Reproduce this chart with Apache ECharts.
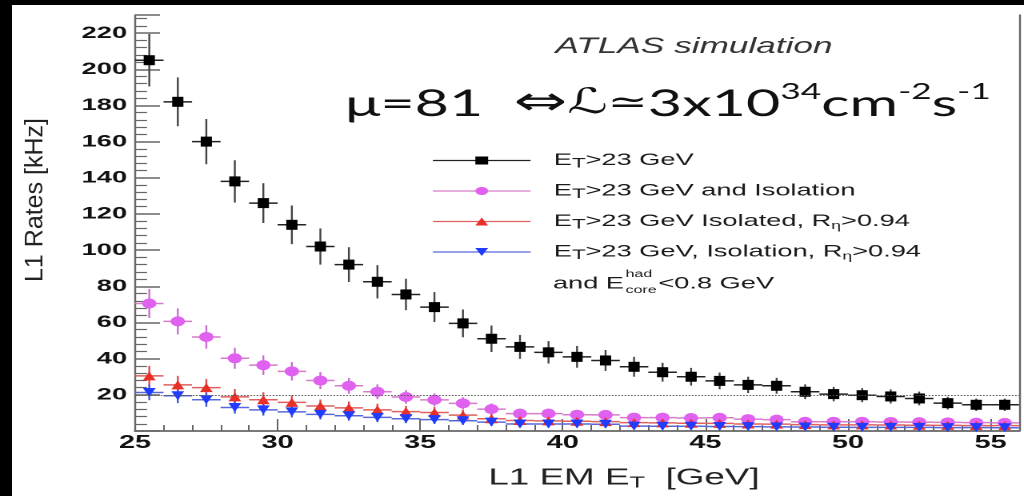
<!DOCTYPE html>
<html><head><meta charset="utf-8">
<script src="https://cdn.jsdelivr.net/npm/echarts@6/dist/echarts.min.js"></script>
<style>
html,body{margin:0;padding:0;background:#000;width:1024px;height:496px;overflow:hidden}
#wrap{position:relative;width:1024px;height:496px;background:#fff}
#chart{position:absolute;left:0;top:0;width:640px;height:496px;transform:scaleX(1.6);transform-origin:0 0}
.bl{position:absolute;background:#000}
</style></head><body>
<div id="wrap"><div id="chart"></div>
<div class="bl" style="left:0;top:0;width:12px;height:496px"></div>
<div class="bl" style="left:0;top:0;width:1024px;height:5px"></div>
</div>
<script>
// ---- data ----
const xBins = [25.5,26.5,27.5,28.5,29.5,30.5,31.5,32.5,33.5,34.5,35.5,36.5,37.5,38.5,39.5,40.5,41.5,42.5,43.5,44.5,45.5,46.5,47.5,48.5,49.5,50.5,51.5,52.5,53.5,54.5,55.5];
const HALF_BIN = 0.5;
const ratesEt   = [205,182,160,138,126,114,102,92,82.5,75.5,68.5,59.5,51,46.5,43.5,41,39,35.5,32.5,30,27.7,25.5,25,21.7,20.4,19.8,19.1,18,15.4,14.5,14.5];
const errEt     = [14.5,13.5,12.5,11.7,11,10.7,10,9.6,9.2,8.7,8.3,7.7,7.3,6.6,6.2,6,5.8,5.5,5.2,4.9,4.6,4.5,4.4,4.1,4,3.9,3.9,3.8,3.5,3.4,3.4];
const ratesIso  = [70.5,60.6,52,40.2,36.4,33,27.9,25,21.7,18.8,17.2,15.3,12.1,9.6,9.6,9,8.9,7.4,7.4,7.2,7.3,6.6,6.3,5.1,5.1,5.1,5.0,4.9,4.8,4.6,4.5];
const errIso    = [8,7.2,6.5,5.8,5.4,5.1,4.7,4.4,4.1,3.8,3.6,3.4,3.1,2.8,2.8,2.7,2.7,2.4,2.4,2.4,2.4,2.3,2.2,2.0,2.0,2.0,2.0,2.0,1.9,1.9,1.9];
const ratesReta = [30.5,25.5,24,18.9,17.3,15.8,13.8,12.8,11.7,10.7,10.2,8.8,6.8,5.8,5.6,5.4,5.2,4.6,4.5,4.3,4.2,3.9,3.8,3.5,3.4,3.4,3.3,3.2,3.1,3.0,3.0];
const errReta   = [5.5,5,4.8,4.3,4.1,3.9,3.6,3.5,3.4,3.2,3.1,2.9,2.6,2.4,2.3,2.3,2.2,2.1,2.1,2.0,2.0,1.9,1.9,1.8,1.8,1.8,1.8,1.7,1.7,1.7,1.7];
const ratesHad  = [21.3,19.5,17.3,13,11.7,10.6,9.2,8.4,7.5,6.8,6.3,5.7,4.9,3.9,3.9,3.9,3.7,2.7,2.6,2.6,2.5,2.4,2.3,2.2,2.1,2.0,2.0,2.0,1.9,1.9,1.8];
const errHad    = [4.3,4.1,3.9,3.4,3.2,3.1,2.8,2.7,2.6,2.5,2.4,2.3,2.1,1.9,1.9,1.9,1.8,1.6,1.5,1.5,1.5,1.5,1.4,1.4,1.4,1.3,1.3,1.3,1.3,1.3,1.3];
const xTicks = [25,30,35,40,45,50,55];
const yTicks = [20,40,60,80,100,120,140,160,180,200,220];
const threshold = 20;
const names = ['ET>23 GeV','ET>23 GeV and Isolation','ET>23 GeV Isolated, Reta>0.94','ET>23 GeV, Isolation, Reta>0.94'];
const legendRich = {
  'ET>23 GeV': '{t|E}{s|T}{t|>23 GeV}',
  'ET>23 GeV and Isolation': '{t|E}{s|T}{t|>23 GeV and Isolation}',
  'ET>23 GeV Isolated, Reta>0.94': '{t|E}{s|T}{t|>23 GeV Isolated, R}{e|η}{t|>0.94}',
  'ET>23 GeV, Isolation, Reta>0.94': '{t|E}{s|T}{t|>23 GeV, Isolation, R}{e|η}{t|>0.94}'
};

const FONT = 'Liberation Sans';
function makeErr(hColor, vColor, hW, vW){
  return function(params, api){
    const x = api.value(0), y = api.value(1), e = api.value(2);
    const l = api.coord([x - HALF_BIN, y]), r = api.coord([x + HALF_BIN, y]);
    const t = api.coord([x, y + e]), b = api.coord([x, Math.max(y - e, 0)]);
    return {type:'group', children:[
      {type:'line', shape:{x1:l[0],y1:l[1],x2:r[0],y2:r[1]}, style:{stroke:hColor, lineWidth:hW}},
      {type:'line', shape:{x1:t[0],y1:t[1],x2:b[0],y2:b[1]}, style:{stroke:vColor, lineWidth:vW}}
    ]};
  };
}
function errSeries(id, vals, errs, hColor, vColor){
  return {type:'custom', name:id, renderItem:makeErr(hColor, vColor, 1.5, 1.2),
    data:xBins.map((x,i)=>[x, vals[i], errs[i]]), encode:{x:0,y:1}, clip:true, silent:true};
}
function markSeries(name, vals, symbol, size, color, lineColor, rotate, extra){
  return Object.assign({type:'line', name:name, data:xBins.map((x,i)=>[x, vals[i]]),
    symbol:symbol, symbolSize:size, symbolRotate:rotate||0, showSymbol:true, showAllSymbol:true,
    itemStyle:{color:color}, lineStyle:{color:lineColor, opacity:0, width:1}, silent:true}, extra||{});
}

const chart = echarts.init(document.getElementById('chart'), null, {renderer:'canvas', devicePixelRatio:2});
const axisCol = '#666';
chart.setOption({
  animation:false,
  backgroundColor:'#fff',
  grid:{left:84.4, right:3.1, top:15, bottom:65, outerBoundsMode:'none'},
  xAxis:[{
    type:'value', min:25, max:56, interval:5,
    axisLine:{lineStyle:{color:axisCol, width:1.5}},
    axisTick:{inside:true, length:12, lineStyle:{color:axisCol, width:1}},
    minorTick:{show:true, splitNumber:5, length:6, lineStyle:{color:axisCol, width:1}},
    splitLine:{show:false},
    axisLabel:{margin:3, color:'#111', fontFamily:FONT, fontWeight:'bold', fontSize:18,
      formatter:v=>xTicks.includes(v)?String(v):''}
  },{
    type:'value', position:'top', min:25, max:56,
    axisLine:{show:true, lineStyle:{color:axisCol, width:1.5}},
    axisTick:{show:false}, axisLabel:{show:false}, splitLine:{show:false}
  }],
  yAxis:[{
    type:'value', min:0, max:230, interval:20,
    axisLine:{show:true, lineStyle:{color:axisCol, width:1.2}},
    axisTick:{show:true, inside:true, length:15.6, lineStyle:{color:axisCol, width:1.5}},
    minorTick:{show:true, splitNumber:5, length:7.5, lineStyle:{color:axisCol, width:1.2}},
    splitLine:{show:false},
    axisLabel:{margin:5, color:'#111', fontFamily:FONT, fontWeight:'bold', fontSize:17,
      formatter:v=>yTicks.includes(v)?String(v):''}
  },{
    type:'value', position:'right', min:0, max:230,
    axisLine:{show:true, lineStyle:{color:axisCol, width:1.2}},
    axisTick:{show:false}, axisLabel:{show:false}, splitLine:{show:false}
  }],
  legend:{
    orient:'vertical', left:270, top:152, padding:0, itemWidth:61, itemHeight:10, itemGap:12,
    selectedMode:false, data:names, lineStyle:{width:1.2, opacity:1},
    formatter:n=>legendRich[n],
    textStyle:{padding:[0,0,0,9.5], rich:{
      t:{fontFamily:FONT, fontSize:17, lineHeight:20, color:'#1a1a1a'},
      s:{fontFamily:FONT, fontSize:14, lineHeight:12, verticalAlign:'bottom', color:'#1a1a1a'},
      e:{fontFamily:FONT, fontSize:11, lineHeight:8, verticalAlign:'bottom', color:'#1a1a1a'}
    }}
  },
  series:[
    errSeries('errEt', ratesEt, errEt, '#222', '#444'),
    markSeries(names[0], ratesEt, 'rect', [7,10], '#000', '#222', 0, {
      markLine:{silent:true, symbol:'none', label:{show:false},
        lineStyle:{type:'dotted', color:'#555', width:1, opacity:1}, data:[{yAxis:threshold}]}
    }),
    errSeries('errIso', ratesIso, errIso, '#d67cc8', '#c870d0'),
    markSeries(names[1], ratesIso, 'circle', [9,10], '#e060f0', '#d67cc8', 0),
    errSeries('errReta', ratesReta, errReta, '#e06060', '#d85050'),
    markSeries(names[2], ratesReta, 'triangle', [8,9], '#e83028', '#e06060', 0),
    errSeries('errHad', ratesHad, errHad, '#5868d8', '#4858d0'),
    markSeries(names[3], ratesHad, 'triangle', [8,9], '#1f3cff', '#5868d8', 180)
  ],
  graphic:[
    {type:'text', x:433.75, y:47, style:{text:'ATLAS simulation', fontFamily:FONT, fontStyle:'italic', fontSize:22, fill:'#333', align:'center', verticalAlign:'middle'}},
    {type:'text', x:215.6, y:104, style:{
      text:'{b|μ=81  }{a|⇔}{l|ℒ}{q|≃}{b|3x10}{p|34}{b|cm}{p|-2}{b|s}{p|-1}',
      align:'left', verticalAlign:'middle',
      rich:{
        b:{fontFamily:'Lato', fontSize:37, lineHeight:46, fill:'#111'},
        a:{fontFamily:'DejaVu Sans', fontSize:40, lineHeight:46, fill:'#111'},
        q:{fontFamily:'DejaVu Sans', fontSize:30, lineHeight:46, fill:'#111'},
        l:{fontFamily:'DejaVu Sans', fontStyle:'italic', fontSize:35, lineHeight:46, fill:'#111'},
        p:{fontFamily:'Lato', fontSize:22, lineHeight:24, verticalAlign:'top', fill:'#111'}
      }}},
    {type:'text', x:345.6, y:284, style:{text:'and E', fontFamily:FONT, fontSize:17, fill:'#1a1a1a', align:'left', verticalAlign:'middle'}},
    {type:'text', x:391, y:274, style:{text:'had', fontFamily:FONT, fontSize:10, fill:'#1a1a1a', align:'left', verticalAlign:'middle'}},
    {type:'text', x:391, y:290, style:{text:'core', fontFamily:FONT, fontSize:10, fill:'#1a1a1a', align:'left', verticalAlign:'middle'}},
    {type:'text', x:411.5, y:284, style:{text:'<0.8 GeV', fontFamily:FONT, fontSize:17, fill:'#1a1a1a', align:'left', verticalAlign:'middle'}},
    {type:'text', x:390, y:478, style:{
      text:'{a|L1 EM E}{s|T}{a|  [GeV]}', align:'center', verticalAlign:'middle',
      rich:{a:{fontFamily:FONT, fontSize:23, lineHeight:26, fill:'#222'},
            s:{fontFamily:FONT, fontSize:16, lineHeight:14, verticalAlign:'bottom', fill:'#222'}}}},
    {type:'text', x:22, y:200, rotation:Math.PI/2, scaleY:0.625, style:{
      text:'L1 Rates [kHz]', fontFamily:FONT, fontSize:25, fill:'#222', align:'center', verticalAlign:'middle'}}
  ]
});
</script></body></html>
